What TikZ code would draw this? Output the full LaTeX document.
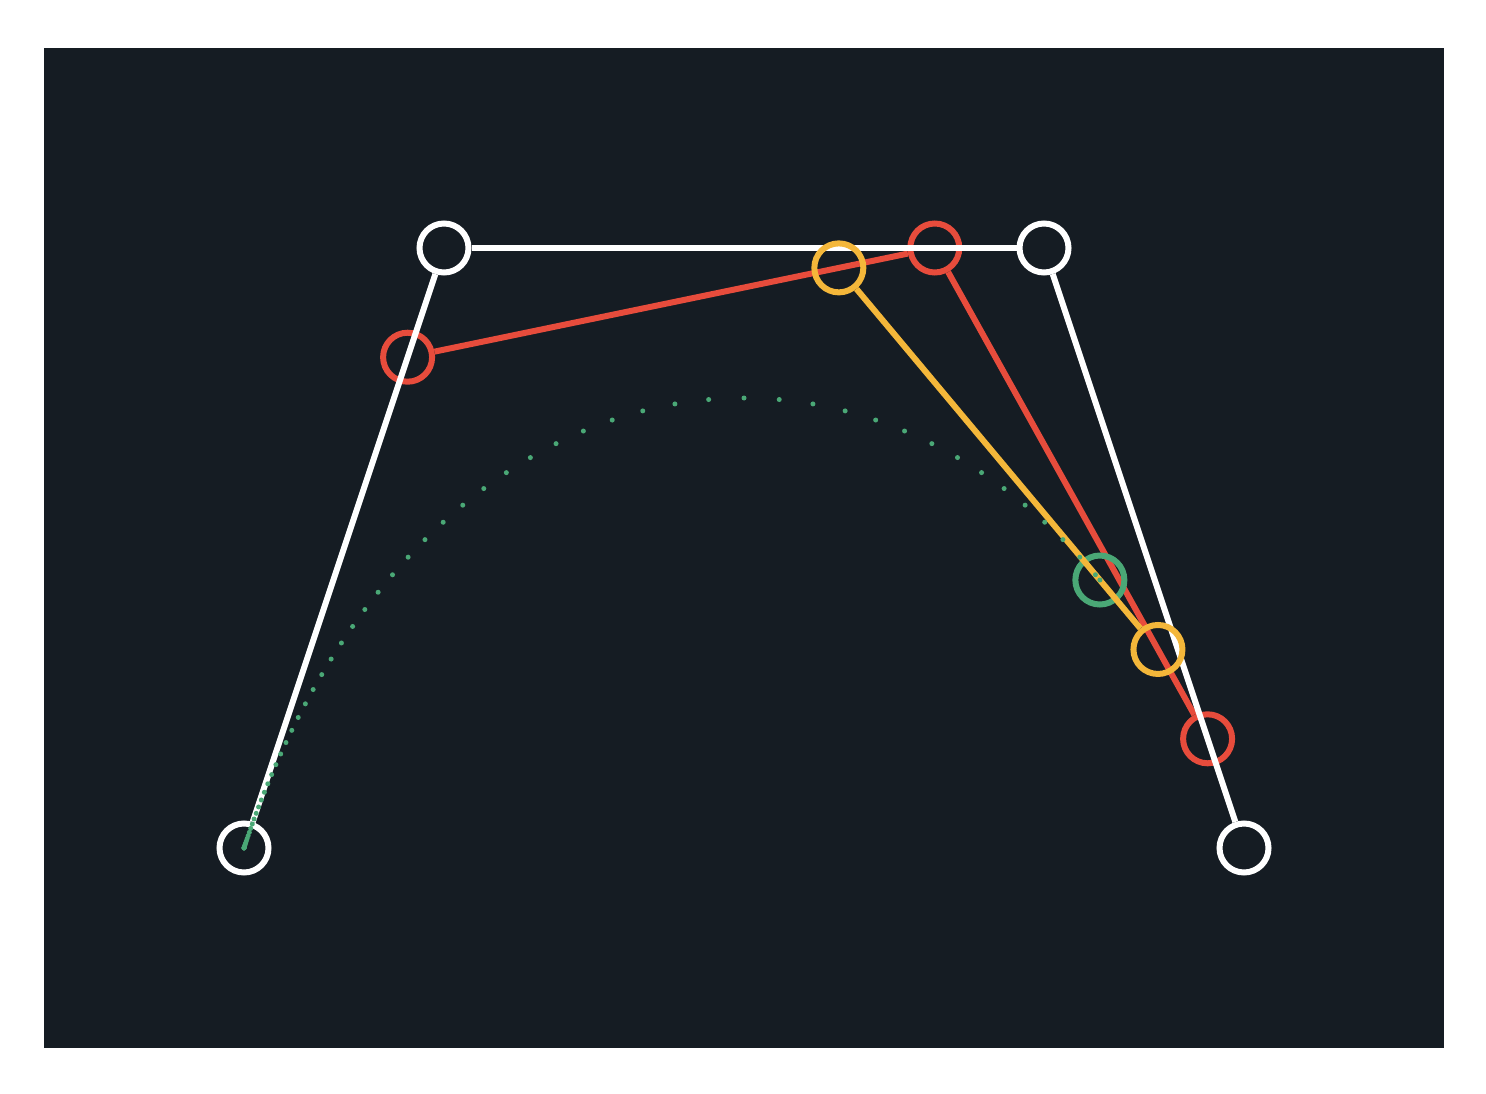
\documentclass[tikz,border=0pt]{standalone}
\usetikzlibrary{calc}
\definecolor{bg}{HTML}{151C23}
\definecolor{cred}{HTML}{E74C3C}
\definecolor{cyel}{HTML}{F4B73A}
\definecolor{cgrn}{HTML}{4AA876}
\begin{document}
\begin{tikzpicture}[x=1pt,y=-1pt,
  pt/.style={circle,draw,line width=6pt,minimum size=49pt,inner sep=0pt},
  seg/.style={line width=6pt}]
\useasboundingbox (0,0) rectangle (1486,1094);
\fill[white] (0,0) rectangle (1486,1094);
\fill[bg] (44,48) rectangle (1444,1048);
\def\tval{0.818}
\coordinate (p0) at (244,848);
\coordinate (p1) at (444,248);
\coordinate (p2) at (1044,248);
\coordinate (p3) at (1244,848);
\coordinate (r0) at ($(p0)!\tval!(p1)$);
\coordinate (r1) at ($(p1)!\tval!(p2)$);
\coordinate (r2) at ($(p2)!\tval!(p3)$);
\coordinate (q0) at ($(r0)!\tval!(r1)$);
\coordinate (q1) at ($(r1)!\tval!(r2)$);
\coordinate (g) at ($(q0)!\tval!(q1)$);
% red level
\node[pt,draw=cred] (R0) at (r0) {};
\node[pt,draw=cred] (R1) at (r1) {};
\node[pt,draw=cred] (R2) at (r2) {};
\draw[seg,cred] (R0) -- (R1);
\draw[seg,cred] (R1) -- (R2);
% white level
\node[pt,draw=white] (P0) at (p0) {};
\node[pt,draw=white] (P1) at (p1) {};
\node[pt,draw=white] (P2) at (p2) {};
\node[pt,draw=white] (P3) at (p3) {};
\draw[seg,white] (P0) -- (P1);
\draw[seg,white] (P1) -- (P2);
\draw[seg,white] (P2) -- (P3);
% green point
\node[pt,draw=cgrn] (G) at (g) {};
% yellow level
\node[pt,draw=cyel] (Q0) at (q0) {};
\node[pt,draw=cyel] (Q1) at (q1) {};
\draw[seg,cyel] (Q0) -- (Q1);
% traced curve (dots)
\foreach \k in {0,...,64}{
  \pgfmathsetmacro\uu{\k/100}
  \pgfmathsetmacro\tv{\uu<0.5 ? 4*\uu*\uu*\uu : 1-(2-2*\uu)*(2-2*\uu)*(2-2*\uu)/2}
  \pgfmathsetmacro\sv{1-\tv}
  \pgfmathsetmacro\xx{\sv*\sv*\sv*244+3*\sv*\sv*\tv*444+3*\sv*\tv*\tv*1044+\tv*\tv*\tv*1244}
  \pgfmathsetmacro\yy{\sv*\sv*\sv*848+3*\sv*\sv*\tv*248+3*\sv*\tv*\tv*248+\tv*\tv*\tv*848}
  \fill[cgrn] (\xx,\yy) circle (2.5pt);
}
\fill[cgrn] (g) circle (2.5pt);
\end{tikzpicture}
\end{document}
